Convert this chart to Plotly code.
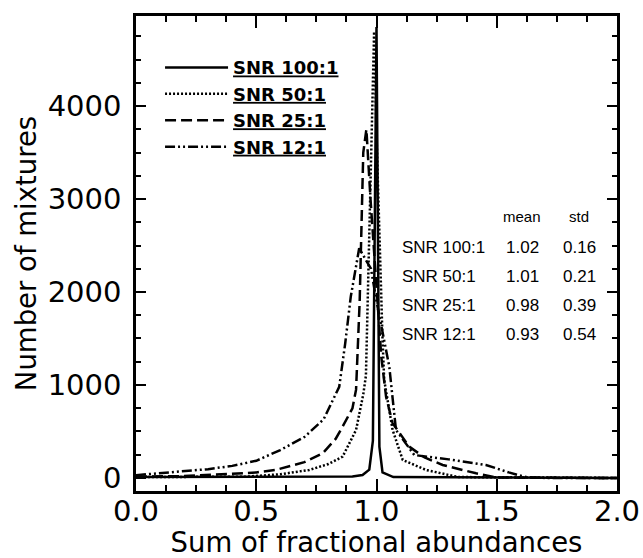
import plotly.graph_objects as go

# ---- data ----
snr100_x = [0.0, 0.9, 0.942, 0.97, 0.985, 0.995, 1.0, 1.005, 1.012, 1.025, 1.07, 2.0]
snr100_y = [10, 15, 32, 90, 400, 3000, 4850, 3000, 337, 60, 10, 0]

snr50_x = [0.0, 0.3, 0.457, 0.6, 0.72, 0.8, 0.859, 0.915, 0.945, 0.956, 0.965, 0.975, 0.985, 0.99,
           1.0, 1.012, 1.025, 1.032, 1.067, 1.109, 1.206, 1.34, 2.0]
snr50_y = [10, 12, 14, 40, 86, 150, 229, 516, 900, 1100, 2000, 3300, 4300, 4800,
           3700, 2500, 1500, 1054, 516, 194, 86, 10, 0]

snr25_x = [0.0, 0.2, 0.4, 0.5, 0.58, 0.7, 0.776, 0.83, 0.859, 0.9, 0.915, 0.93, 0.945, 0.958,
           0.975, 1.0, 1.02, 1.04, 1.067, 1.136, 1.2, 1.275, 1.35, 1.414, 1.5, 2.0]
snr25_y = [15, 20, 45, 60, 86, 170, 265, 420, 552, 750, 950, 1900, 3500, 3750,
           3000, 2000, 1300, 870, 590, 337, 220, 140, 90, 50, 5, 0]

snr12_x = [0.0, 0.1, 0.2, 0.3, 0.4, 0.5, 0.6, 0.7, 0.78, 0.845, 0.87, 0.893, 0.928, 0.977,
           1.0, 1.03, 1.053, 1.081, 1.157, 1.3, 1.455, 1.55, 1.62, 1.7, 2.0]
snr12_y = [30, 50, 75, 95, 130, 185, 300, 440, 630, 980, 1450, 1950, 2470, 2250,
           1900, 1500, 1200, 516, 247, 200, 140, 60, 10, 0, 0]

series_names = ["SNR 100:1", "SNR 50:1", "SNR 25:1", "SNR 12:1"]
table_rows = ["SNR 100:1", "SNR 50:1", "SNR 25:1", "SNR 12:1"]
table_mean = ["1.02", "1.01", "0.98", "0.93"]
table_std = ["0.16", "0.21", "0.39", "0.54"]

x_ticks = [0.0, 0.5, 1.0, 1.5, 2.0]
x_tick_labels = ["0.0", "0.5", "1.0", "1.5", "2.0"]
y_ticks = [0, 1000, 2000, 3000, 4000]

# ---- figure ----
dashes = ["solid", "2px,2px", "11px,5px", "10px,3px,2px,3px,2px,3px"]
xs = [snr100_x, snr50_x, snr25_x, snr12_x]
ys = [snr100_y, snr50_y, snr25_y, snr12_y]

fig = go.Figure()
for name, x, y, d in zip(series_names, xs, ys, dashes):
    fig.add_trace(go.Scatter(x=x, y=y, mode="lines", name="<u>" + name + "</u>",
                             line=dict(color="black", width=2.5, dash=d)))

tick_font = dict(family="DejaVu Sans", size=29, color="black")
title_font = dict(family="DejaVu Sans", size=27.5, color="black")

fig.update_layout(
    width=643, height=558,
    margin=dict(l=136, r=26, t=16, b=67),
    paper_bgcolor="white", plot_bgcolor="white",
    showlegend=True,
    legend=dict(x=0.05, y=0.93, xanchor="left", yanchor="top",
                bgcolor="rgba(0,0,0,0)", borderwidth=0, itemwidth=63,
                font=dict(family="DejaVu Sans", size=18, color="black", weight="bold"),
                tracegroupgap=0),
)

fig.update_xaxes(
    range=[0, 2.0], tickmode="array", tickvals=x_ticks, ticktext=x_tick_labels,
    ticks="inside", ticklen=12, tickwidth=2, tickcolor="black",
    minor=dict(dtick=0.125, ticks="inside", ticklen=6, tickwidth=2, tickcolor="black"),
    showline=True, linewidth=2.5, linecolor="black", mirror="ticks",
    showgrid=False, zeroline=False, tickfont=tick_font, automargin=False,
    ticklabelstandoff=-8,
    title=dict(text="Sum of fractional abundances", font=title_font, standoff=2),
)
fig.update_yaxes(
    range=[-140, 4968], tickmode="array", tickvals=y_ticks,
    ticks="inside", ticklen=10, tickwidth=2, tickcolor="black",
    minor=dict(dtick=250, ticks="inside", ticklen=5, tickwidth=2, tickcolor="black"),
    showline=True, linewidth=2.5, linecolor="black", mirror="ticks",
    showgrid=False, zeroline=False, tickfont=tick_font, ticklabelstandoff=6,
    automargin=False,
    title=dict(text="Number of mixtures", font=title_font, standoff=4),
)

# statistics table
tfont = dict(family="Liberation Sans", size=17, color="black")
hfont = dict(family="Liberation Sans", size=15, color="black")
fig.add_annotation(xref="paper", yref="paper", x=(522 - 136) / 481, y=(491 - 217) / 475,
                   text="mean", showarrow=False, font=hfont, xanchor="center", yanchor="middle")
fig.add_annotation(xref="paper", yref="paper", x=(579 - 136) / 481, y=(491 - 217) / 475,
                   text="std", showarrow=False, font=hfont, xanchor="center", yanchor="middle")
for i, (lab, m, s) in enumerate(zip(table_rows, table_mean, table_std)):
    yy = (491 - (247 + 29.2 * i)) / 475
    fig.add_annotation(xref="paper", yref="paper", x=(400 - 136) / 481, y=yy, text=lab,
                       showarrow=False, font=tfont, xanchor="left", yanchor="middle")
    fig.add_annotation(xref="paper", yref="paper", x=(522 - 136) / 481, y=yy, text=m,
                       showarrow=False, font=tfont, xanchor="center", yanchor="middle")
    fig.add_annotation(xref="paper", yref="paper", x=(579 - 136) / 481, y=yy, text=s,
                       showarrow=False, font=tfont, xanchor="center", yanchor="middle")

fig.write_html("out.html")
